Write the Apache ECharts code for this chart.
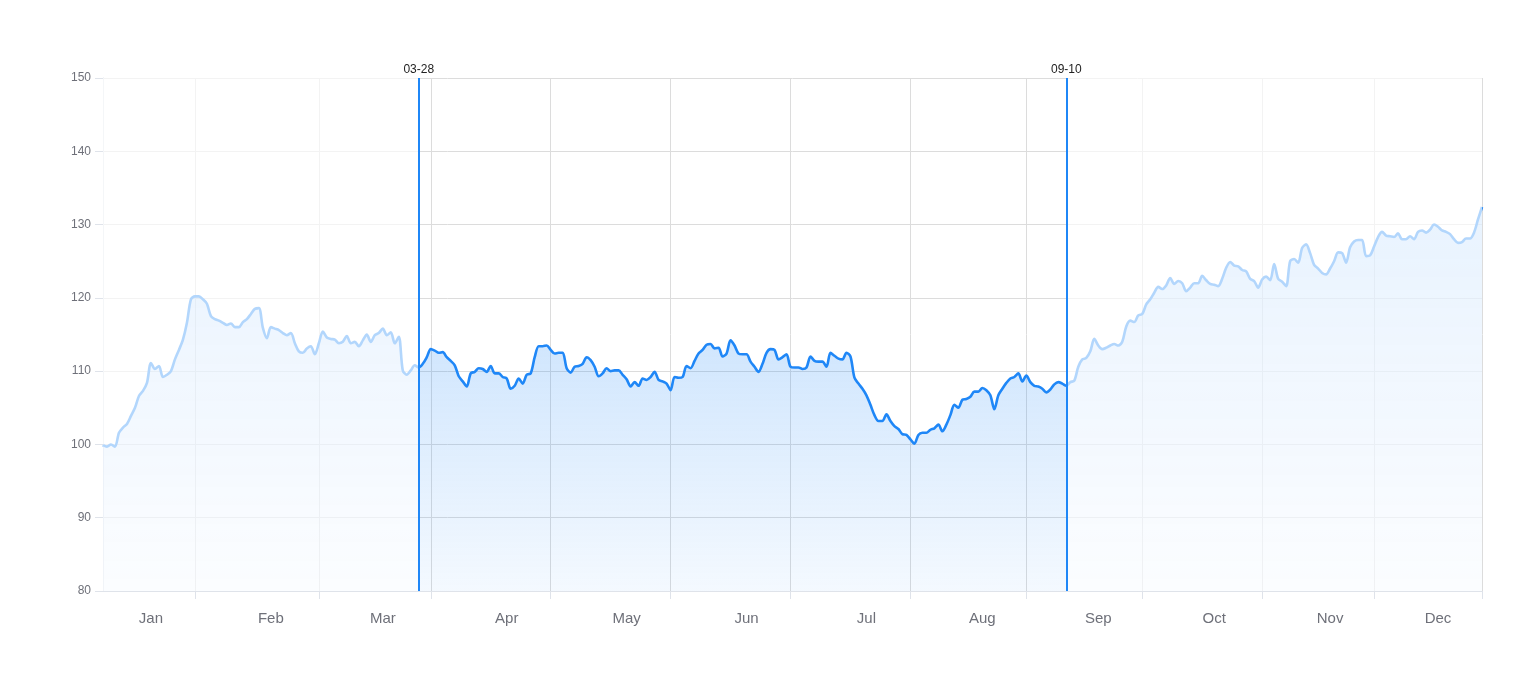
<!DOCTYPE html>
<html>
<head>
<meta charset="utf-8">
<script src="https://cdn.jsdelivr.net/npm/echarts@6/dist/echarts.min.js"></script>
<style>
  html, body { margin: 0; padding: 0; background: #fff; }
  #chart { width: 1539px; height: 700px; }
</style>
</head>
<body>
<div id="chart"></div>
<script>
// ---- data ----
const values = [
  99.9, 99.7, 100.0, 99.7, 101.6, 102.3, 102.8, 103.9, 105.0, 106.6,
  107.3, 108.4, 111.1, 110.3, 110.7, 109.2, 109.5, 110.0, 111.6, 112.9,
  114.3, 116.6, 119.8, 120.2, 120.2, 119.8, 119.2, 117.5, 117.1, 116.9,
  116.6, 116.3, 116.5, 116.0, 116.0, 116.7, 117.1, 117.8, 118.5, 118.6,
  115.9, 114.5, 116.0, 115.8, 115.6, 115.2, 114.9, 115.2, 113.8, 112.7,
  112.5, 113.1, 113.4, 112.3, 113.8, 115.4, 114.6, 114.4, 114.3, 113.8,
  114.0, 114.8, 113.8, 114.0, 113.4, 114.2, 115.0, 114.0, 114.9, 115.2,
  115.8, 114.9, 115.3, 113.8, 114.7, 110.1, 109.5, 110.1, 110.8, 110.5,
  111.0, 111.9, 113.0, 112.8, 112.5, 112.6, 111.9, 111.4, 110.8, 109.3,
  108.6, 107.9, 109.7, 109.9, 110.4, 110.3, 109.9, 110.7, 109.7, 109.7,
  109.2, 109.0, 107.6, 108.0, 109.0, 108.3, 109.5, 109.7, 111.9, 113.4,
  113.4, 113.5, 112.9, 112.4, 112.5, 112.5, 110.4, 109.8, 110.6, 110.7,
  111.0, 111.9, 111.5, 110.6, 109.3, 109.7, 110.4, 110.0, 110.1, 110.1,
  109.5, 108.9, 107.9, 108.5, 108.0, 109.0, 108.8, 109.2, 109.9, 108.8,
  108.6, 108.3, 107.4, 109.2, 109.1, 109.2, 110.7, 110.4, 111.4, 112.4,
  112.9, 113.6, 113.7, 113.1, 113.2, 112.0, 112.4, 114.2, 113.5, 112.4,
  112.3, 112.3, 111.3, 110.6, 109.9, 111.0, 112.5, 113.0, 112.9, 111.6,
  111.9, 112.3, 110.6, 110.5, 110.5, 110.3, 110.5, 112.0, 111.4, 111.3,
  111.3, 110.6, 112.5, 112.1, 111.7, 111.6, 112.5, 112.0, 109.1, 108.3,
  107.6, 106.7, 105.4, 104.0, 103.2, 103.2, 104.1, 103.2, 102.5, 102.1,
  101.4, 101.3, 100.7, 100.1, 101.3, 101.6, 101.6, 102.0, 102.2, 102.7,
  101.8, 102.7, 104.0, 105.4, 105.0, 106.1, 106.2, 106.5, 107.2, 107.2,
  107.7, 107.4, 106.7, 104.8, 106.7, 107.6, 108.4, 109.0, 109.2, 109.7,
  108.6, 109.4, 108.5, 108.0, 107.9, 107.6, 107.1, 107.5, 108.2, 108.5,
  108.3, 108.0, 108.5, 108.7, 110.6, 111.6, 111.8, 112.7, 114.4, 113.5,
  113.0, 113.2, 113.5, 113.7, 113.5, 114.0, 116.1, 116.9, 116.7, 117.6,
  117.8, 119.1, 119.8, 120.7, 121.5, 121.2, 121.7, 122.7, 121.9, 122.3,
  122.0, 120.9, 121.4, 122.0, 122.0, 123.0, 122.4, 121.9, 121.8, 121.6,
  122.6, 124.1, 124.9, 124.4, 124.3, 123.8, 123.6, 122.6, 122.3, 121.4,
  122.5, 122.9, 122.4, 124.6, 122.6, 122.2, 121.6, 125.0, 125.3, 124.8,
  126.8, 127.3, 126.1, 124.5, 124.0, 123.4, 123.2, 124.0, 125.0, 126.2,
  126.1, 124.8, 126.9, 127.7, 127.9, 127.9, 125.7, 125.8, 127.0, 128.3,
  129.0, 128.5, 128.4, 128.3, 128.8, 128.0, 128.0, 128.4, 128.0, 129.0,
  129.2, 128.9, 129.3, 130.0, 129.7, 129.2, 129.0, 128.7, 128.0, 127.5,
  127.6, 128.1, 128.1, 128.9, 130.7, 132.4
];

// category dates (daily, a few days without data)
const startDate = [2023, 0, 8];
const skippedDates = ['05-01', '06-05', '07-04', '09-04'];

// highlighted range boundaries
const markDates = ['03-28', '09-10'];

// month labels and where they / the ticks sit on the category axis
const monthNames = ['Jan', 'Feb', 'Mar', 'Apr', 'May', 'Jun', 'Jul', 'Aug', 'Sep', 'Oct', 'Nov', 'Dec'];
const labelIdx = [12, 42, 70, 101, 131, 161, 191, 220, 249, 278, 307, 334];
const tickIdx = [23, 54, 82, 112, 142, 172, 202, 231, 260, 290, 318, 345];
const splitIdx = [0].concat(tickIdx);

const yMin = 80, yMax = 150, yStep = 10;

// ---- build categories ----
const categories = [];
{
  let t = Date.UTC(startDate[0], startDate[1], startDate[2]);
  while (categories.length < values.length) {
    const d = new Date(t);
    const s = String(d.getUTCMonth() + 1).padStart(2, '0') + '-' + String(d.getUTCDate()).padStart(2, '0');
    if (skippedDates.indexOf(s) < 0) categories.push(s);
    t += 86400000;
  }
}
const markIdx = markDates.map(d => categories.indexOf(d));
const fadeRanges = [[0, markIdx[0]], [markIdx[1], values.length - 1]];

const blue = '#1f87f7';
const font = 'Liberation Sans, Arial, Helvetica, sans-serif';

const chart = echarts.init(document.getElementById('chart'));
chart.setOption({
  animation: false,
  textStyle: { fontFamily: font },
  grid: { left: 103, right: 57, top: 78, bottom: 109, containLabel: false, outerBoundsMode: 'none' },
  xAxis: {
    type: 'category',
    data: categories,
    boundaryGap: false,
    axisLine: { show: true, lineStyle: { color: '#dfe3ea', width: 1 } },
    axisTick: {
      show: true, length: 8,
      interval: (i) => tickIdx.indexOf(i) >= 0,
      lineStyle: { color: '#dfe3ea' }
    },
    axisLabel: {
      show: true,
      interval: (i) => labelIdx.indexOf(i) >= 0,
      formatter: (v, i) => monthNames[labelIdx.indexOf(i)],
      color: '#6e7079', fontSize: 15, margin: 20, fontFamily: font
    },
    splitLine: {
      show: true,
      interval: (i) => splitIdx.indexOf(i) >= 0,
      lineStyle: { color: '#dcdcdc', width: 1 }
    }
  },
  yAxis: {
    type: 'value',
    min: yMin, max: yMax, interval: yStep,
    axisLine: { show: true, lineStyle: { color: '#dfe3ea' } },
    axisTick: { show: true, length: 8, lineStyle: { color: '#dfe3ea' } },
    axisLabel: { color: '#6e7079', fontSize: 12, margin: 12, fontFamily: font },
    splitLine: { show: true, lineStyle: { color: '#dcdcdc', width: 1 } }
  },
  series: [
    {
      type: 'line',
      data: values,
      z: 2,
      smooth: 0.3,
      symbol: 'none',
      lineStyle: { color: blue, width: 2.6 },
      itemStyle: { color: blue },
      areaStyle: {
        color: new echarts.graphic.LinearGradient(0, 0, 0, 1, [
          { offset: 0, color: 'rgba(31,135,247,0.42)' },
          { offset: 1, color: 'rgba(31,135,247,0.07)' }
        ])
      },
      markLine: {
        silent: true,
        symbol: ['none', 'none'],
        z: 6,
        lineStyle: { color: blue, width: 2, type: 'solid' },
        label: { show: true, position: 'end', formatter: '{b}', color: '#222', fontSize: 12, distance: 2, fontFamily: font },
        emphasis: { disabled: true },
        data: markDates.map((d, k) => ({ name: d, xAxis: markIdx[k] }))
      }
    },
    {
      type: 'custom',
      z: 4,
      silent: true,
      encode: { x: [0, 1] },
      data: fadeRanges,
      renderItem: function (params, api) {
        const a = api.coord([api.value(0), yMax]);
        const b = api.coord([api.value(1), yMin]);
        return {
          type: 'rect',
          shape: { x: a[0], y: a[1], width: b[0] - a[0], height: b[1] - a[1] },
          style: { fill: 'rgba(255,255,255,0.66)' }
        };
      }
    }
  ]
});
</script>
</body>
</html>
